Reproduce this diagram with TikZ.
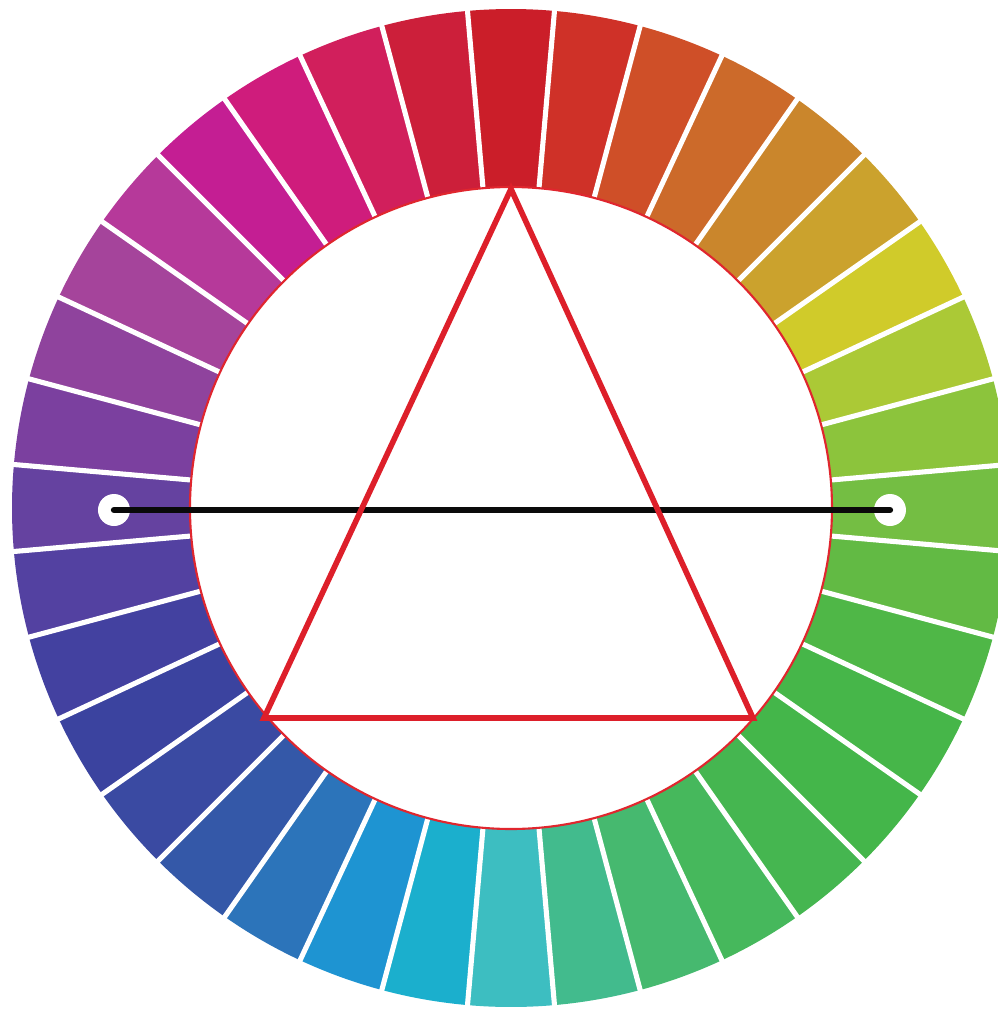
\documentclass[tikz,border=0pt]{standalone}
\usepackage{tikz}
\usetikzlibrary{positioning}
\definecolor{rimred} {HTML}{E0262E}
\definecolor{trired} {HTML}{DD1F2A}
\definecolor{barblk} {HTML}{0A0A0A}
\tikzset{
  seg/.style  ={line width=0pt},
  gap/.style  ={draw=white, line width=1.45pt},
  rim/.style  ={draw=rimred, line width=0.6pt, fill=white},
  tri/.style  ={draw=trired, line width=1.6pt, line join=miter},
  bar/.style  ={draw=barblk, line width=1.8pt, line cap=round},
  dot/.style  ={circle, fill=white, minimum size=3.2mm, inner sep=0pt}
}

\begin{document}
\begin{tikzpicture}
\useasboundingbox (-5.11,-5.01) rectangle (4.87,5.08);
% colour segments, clockwise from the top
\foreach \ang/\hex in {90/CB1E29, 80/CF3128, 70/CF4F28, 60/CC6A2A, 50/CA862C,
    40/CBA22D, 30/D0CB2A, 20/ABC936, 10/8CC43C, 0/74BE43, 350/62BA44,
    340/4FB747, 330/46B649, 320/44B64A, 310/45B650, 300/46B85C, 290/46B96F,
    280/42BB8D, 270/3DBEC1, 260/1BAFCD, 250/1E94D2, 240/2C74BA, 230/3458A8,
    220/3A4AA2, 210/3B439F, 200/4341A0, 190/5341A1, 180/6542A0, 170/7B409F,
    160/8F439D, 150/A5449B, 140/B6399A, 130/C41E93, 120/CF1C7C, 110/D11F5C,
    100/CC1F3A}{
  \definecolor{segcol}{HTML}{\hex}
  \fill[seg, segcol] (\ang-5:3.21) arc[start angle=\ang-5, end angle=\ang+5, radius=3.21]
    -- (\ang+5:4.99) arc[start angle=\ang+5, end angle=\ang-5, radius=4.99] -- cycle;
}
\foreach \ang in {5,15,...,355}
  \draw[gap] (\ang:3.1) -- (\ang:5.1);
\draw[rim] (0,0) circle[radius=3.21];

% bar with its two end dots
\node[dot] (lft) at (-3.97,-0.02) {};
\node[dot] (rgt) at (3.79,-0.02) {};
\draw[bar] (lft.center) -- (rgt.center);

% triangle
\coordinate (ta) at (0,3.19);
\coordinate (tb) at (-2.47,-2.10);
\coordinate (tc) at (2.42,-2.10);
\draw[tri] (ta) -- (tb) -- (tc) -- cycle;
\end{tikzpicture}
\end{document}
